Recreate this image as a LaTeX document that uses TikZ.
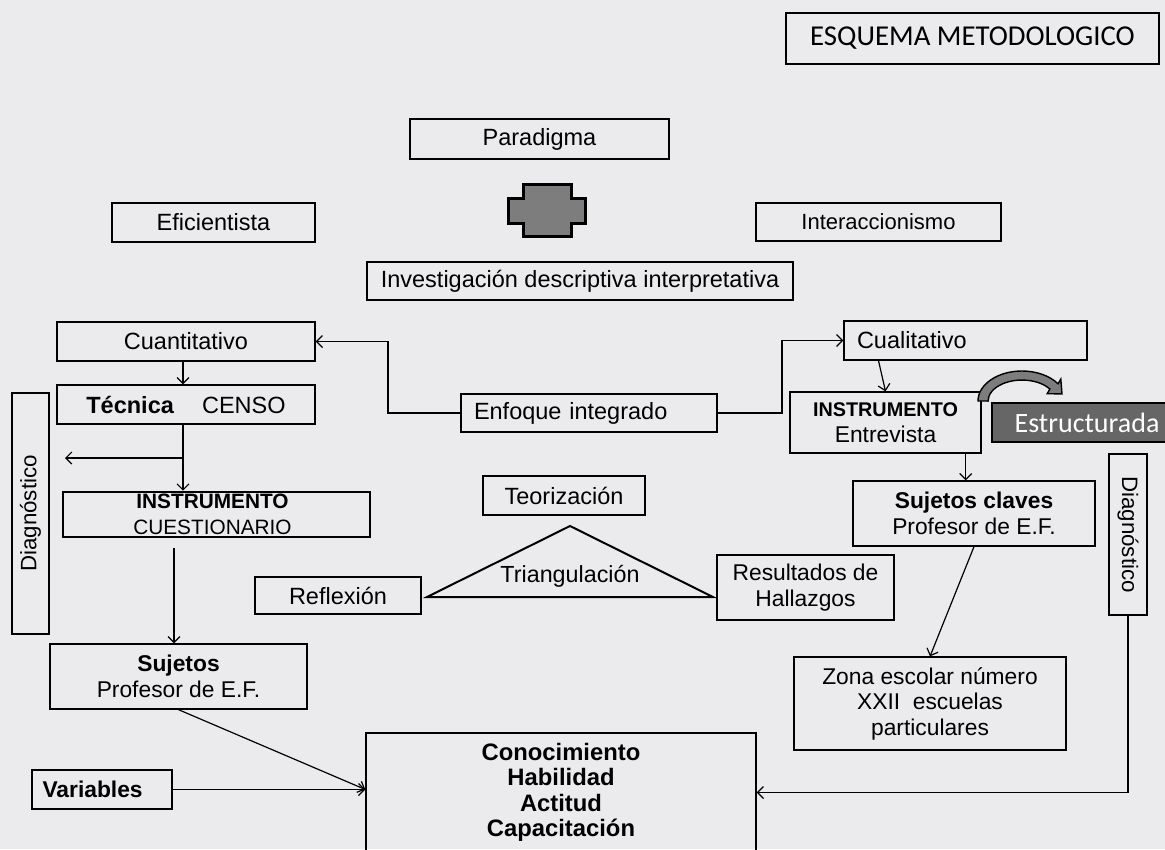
\documentclass[tikz,border=0pt]{standalone}
\usepackage{fontspec}
\setmainfont{Liberation Sans}
\newfontfamily\calib{Carlito}
\usetikzlibrary{arrows.meta,calc}
\definecolor{paper}{RGB}{235,235,237}
\definecolor{crossgray}{RGB}{125,125,125}
\definecolor{estgray}{RGB}{102,102,102}
\newcommand\fsz[1]{\fontsize{#1}{25.5}\selectfont}
\begin{document}
\begin{tikzpicture}[x=1pt,y=-1pt,
  box/.style={draw,line width=1.3pt,inner sep=0pt,align=center,font=\fsz{23.5}},
  arr/.style={line width=1.2pt,-{Straight Barb[length=6pt,width=12pt]}},
  ln/.style={line width=1.2pt}]
\fill[paper] (0,0) rectangle (1165,849);
\path[use as bounding box] (0,0) rectangle (1165,849);
\clip (0,0) rectangle (1165,849);

% title
\node[box,font=\calib\fsz{28.8},minimum width=373pt,minimum height=51pt] (title) at (972.5,38.5) {ESQUEMA METODOLOGICO};

% top
\node[box,minimum width=259pt,minimum height=40pt] (par) at (539.5,139) {Paradigma};
\draw[line width=3.2pt,fill=crossgray] (508.5,198.5)--(523.5,198.5)--(523.5,184.5)--(571.5,184.5)--(571.5,198.5)--(585.5,198.5)--(585.5,223.5)--(571.5,223.5)--(571.5,236.5)--(523.5,236.5)--(523.5,223.5)--(508.5,223.5)--cycle;
\node[box,minimum width=203pt,minimum height=39pt] (efi) at (213.5,222.5) {Eficientista};
\node[box,font=\fsz{22},minimum width=245pt,minimum height=38pt] (inter) at (878.5,222) {Interaccionismo};
\node[box,minimum width=426pt,minimum height=38pt] (inv) at (580,281) {Investigación descriptiva interpretativa};

% left column
\node[box,minimum width=258pt,minimum height=39pt] (cuant) at (186,341.5) {Cuantitativo};
\node[box,minimum width=258pt,minimum height=39pt] (tec) at (186,404.5) {\textbf{Técnica}\hspace{28pt}CENSO};
\node[box,rotate=90,font=\fsz{22.3},minimum width=241pt,minimum height=37pt] (dl) at (30.5,513.5) {Diagnóstico};
\node[box,line width=2.6pt,font=\fsz{20.8},minimum width=307pt,minimum height=45pt] (cuest) at (216.5,514.5) {\hspace*{-8pt}\textbf{INSTRUMENTO}\\\hspace*{-8pt}CUESTIONARIO};
\node[box,minimum width=166pt,minimum height=37pt] (refl) at (338,595.5) {Reflexión};
\node[box,font=\fsz{22.8},minimum width=257pt,minimum height=65pt] (suj) at (178.5,676.5) {\textbf{Sujetos}\\Profesor de E.F.};
\node[box,font=\fsz{22.8}\bfseries,minimum width=140pt,minimum height=39pt,text width=119pt,align=left] (var) at (102,789.5) {Variables};

% center
\node[box,font=\fsz{23.8}\bfseries,minimum width=390pt,minimum height=119pt] (con) at (561,792.5) {Conocimiento\\Habilidad\\Actitud\\Capacitación};
\node[box,minimum width=162pt,minimum height=39pt] (teo) at (564,495.5) {Teorización};
\draw[line width=2pt] (570,526) -- (713,597) -- (427,597) -- cycle;
\node[font=\fsz{23.3},inner sep=0pt] (tri) at (570,576) {Triangulación};
\node[box,minimum width=256pt,minimum height=38pt,text width=230pt,align=left] (enf) at (589,413) {Enfoque integrado};
\node[box,font=\fsz{22.8},minimum width=177pt,minimum height=65pt] (res) at (805.5,587.5) {Resultados de\\Hallazgos};

% right column
\node[box,minimum width=243pt,minimum height=39pt,text width=217pt,align=left] (cual) at (965.5,340.5) {Cualitativo};
\node[box,font=\fsz{22.8},minimum width=191pt,minimum height=61pt] (entr) at (885.5,422.5) {{\fsz{19.8}\bfseries INSTRUMENTO}\\Entrevista};
\node[draw,line width=1.5pt,fill=estgray,minimum width=176pt,minimum height=39pt,inner sep=0pt] (est) at (1080,422.5) {};
\node[text=white,font=\calib\fsz{28},inner sep=0pt] (estt) at (1087,422.5) {Estructurada};
\node[box,font=\fsz{22.8},minimum width=242pt,minimum height=65pt] (skc) at (974,513.5) {\textbf{Sujetos claves}\\Profesor de E.F.};
\node[box,rotate=-90,font=\fsz{22.3},minimum width=161pt,minimum height=38pt] (dr) at (1128,534.5) {Diagnóstico};
\node[box,font=\fsz{22.8},minimum width=272pt,minimum height=93pt] (zona) at (930,703.5) {Zona escolar número\\XXII\ \ escuelas\\particulares};

% curved fat arrow
\draw[line width=1.4pt,fill=crossgray] (978,401) arc[start angle=180,end angle=35,x radius=44pt,y radius=30pt]
  -- (1060.8,379.1) -- (1062,393.9) -- (1047.2,393.7) -- (1049.9,389)
  arc[start angle=35,end angle=180,x radius=34pt,y radius=21pt] -- cycle;

% connectors
\draw[arr] ([xshift=-3pt]cuant.south) -- ([xshift=-3pt]tec.north);
\draw[arr] ([xshift=-3pt]tec.south) -- ([xshift=-3pt]tec.south |- cuest.north);
\coordinate (br) at (183,458);
\coordinate (brend) at (65,458);
\draw[arr] (br) -- (brend);
\coordinate (cs) at (174,548);
\draw[arr] (cs) -- (cs |- suj.north);
\draw[arr] (var.east) -- (con.west |- var.east);
\draw[arr] (suj.south) -- (con.west |- var.east);
\draw[arr] (dr.east) |- (con.east);
\coordinate (kl) at (388,413);
\draw[arr] (enf.west) -- (kl) |- (cuant.east);
\coordinate (kr) at (782,413);
\draw[arr] (enf.east) -- (kr) |- (cual.west);
\draw[arr] ([xshift=-87pt]cual.south) -- (entr.north);
\draw[arr] ([xshift=-16pt]entr.south east) -- ([xshift=-16pt]entr.south east |- skc.north);
\draw[arr] (skc.south) -- (zona.north);
\end{tikzpicture}
\end{document}
